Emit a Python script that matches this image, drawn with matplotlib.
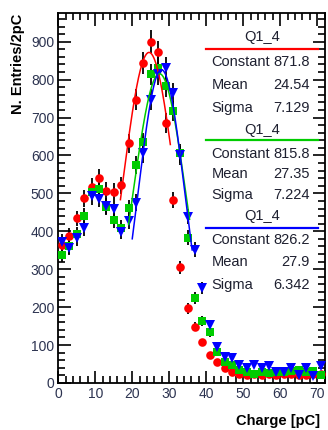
import numpy as np
import matplotlib.pyplot as plt
from matplotlib.ticker import MultipleLocator

plt.rcParams['font.family'] = ['Liberation Sans', 'DejaVu Sans']

# centres des bins (2 pC)
charge = [1, 3, 5, 7, 9, 11, 13, 15, 17, 19, 21, 23, 25, 27, 29, 31, 33, 35,
          37, 39, 41, 43, 45, 47, 49, 51, 53, 55, 57, 59, 61, 63, 65, 67, 69, 71]

rouge = [365, 388, 434, 487, 518, 540, 507, 505, 521, 632, 747, 843, 900, 872, 685, 483, 305, 197,
         148, 107, 73, 55, 40, 29, 24, 22, 25, 22, 24, 20, 23, 25, 22, 20, 23, 24]
vert = [338, 360, 392, 441, 505, 512, 465, 430, 410, 461, 575, 635, 814, 832, 782, 718, 606, 383,
        224, 164, 134, 82, 56, 47, 34, 30, 23, 30, 26, 30, 30, 32, 34, 30, 32, 21]
bleu = [373, 357, 382, 408, 492, 485, 467, 460, 399, 428, 476, 606, 747, 814, 830, 764, 600, 439,
        352, 250, 153, 94, 69, 65, 47, 40, 47, 40, 46, 30, 30, 40, 21, 39, 19, 46]

# parametres des fits gaussiens (Constant, Mean, Sigma) et zone du fit
fit_params = [(871.8, 24.54, 7.129), (815.8, 27.35, 7.224), (826.2, 27.9, 6.342)]
fit_ranges = [(16.8, 30.3), (19.0, 35.5), (20.0, 36.2)]
stat_labels = [('871.8', '24.54', '7.129'), ('815.8', '27.35', '7.224'), ('826.2', '27.9', '6.342')]

couleurs = ['#ff0000', '#00cc00', '#0000ff']
marqueurs = ['o', 's', 'v']
tailles = [6.2, 6.0, 6.8]

W, H = 328, 430
fig = plt.figure(figsize=(W / 100, H / 100), dpi=100)
ax = fig.add_axes([58.3 / W, 1 - 383 / H, (324.5 - 58.3) / W, (383 - 13.3) / H])

series = [rouge, vert, bleu]
for y, c, m, s, (A, mu, sig), (x0, x1) in zip(series, couleurs, marqueurs, tailles, fit_params, fit_ranges):
    y = np.array(y, dtype=float)
    ax.errorbar(charge, y, yerr=np.sqrt(y), fmt='none', ecolor='black', elinewidth=1.3, zorder=2)
    ax.plot(charge, y, linestyle='none', marker=m, color=c, markersize=s, markeredgewidth=0, zorder=3)
    xf = np.linspace(x0, x1, 200)
    ax.plot(xf, A * np.exp(-0.5 * ((xf - mu) / sig) ** 2), color=c, lw=1.1, zorder=4)

ax.set_xlim(0, 72)
ax.set_ylim(0, 975)
ax.xaxis.set_major_locator(MultipleLocator(10))
ax.xaxis.set_minor_locator(MultipleLocator(2))
ax.yaxis.set_major_locator(MultipleLocator(100))
ax.yaxis.set_minor_locator(MultipleLocator(20))
tick_col = '#2c3350'
ax.tick_params(which='both', direction='in', top=True, right=True, width=1.2,
               labelsize=10, labelcolor=tick_col, pad=3)
ax.tick_params(which='major', length=9)
ax.tick_params(which='minor', length=5)
for sp in ax.spines.values():
    sp.set_linewidth(1.3)

ax.set_xlabel('Charge [pC]', fontsize=10.5, fontweight='bold', loc='right')
ax.xaxis.set_label_coords(0.985, -0.083)
ax.set_ylabel('N. Entries/2pC', fontsize=10.5, fontweight='bold', loc='top')
ax.yaxis.set_label_coords(-0.125, 1.0)

# boites de stats
def px(x, y):
    return x / W, 1 - y / H

txt_col = '#1e2030'
titres_y = [37.3, 130, 216]
lignes_y = [49.3, 140, 228.3]
rangs_y = [(61.7, 85, 108.3), (154, 174.5, 195), (240, 261.7, 285)]
for i in range(3):
    fig.text(*px(261.7, titres_y[i]), 'Q1_4', ha='center', va='center', fontsize=10.5, color=txt_col)
    xa, ya = px(206, lignes_y[i])
    xb, _ = px(318, lignes_y[i])
    fig.add_artist(plt.Line2D([xa, xb], [ya, ya], color=couleurs[i], lw=1.6))
    for nom, val, yy in zip(['Constant', 'Mean', 'Sigma'], stat_labels[i], rangs_y[i]):
        fig.text(*px(211.7, yy), nom, ha='left', va='center', fontsize=10.5, color=txt_col)
        fig.text(*px(309.5, yy), val, ha='right', va='center', fontsize=10.5, color=txt_col)

fig.savefig('out.png', dpi=100)
